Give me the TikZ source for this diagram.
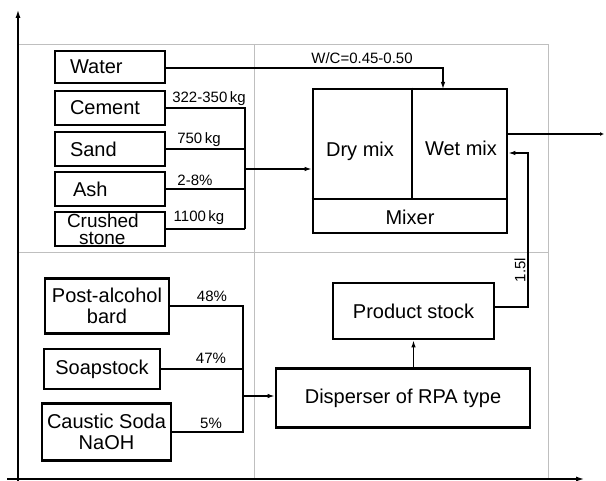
\documentclass[tikz,border=0pt]{standalone}
\usepackage{fontspec}
\setmainfont{Liberation Sans}
\usetikzlibrary{arrows.meta}
\begin{document}
\begin{tikzpicture}[x=1pt,y=-1pt,
  box/.style={draw,line width=2.8pt,inner sep=0pt,font=\fontsize{20}{21}\selectfont,align=center},
  lbox/.style={draw,line width=2.8pt,inner ysep=0pt,inner xsep=15pt,text width=80pt,align=left,font=\fontsize{20}{21}\selectfont},
  grid/.style={draw=black!25,line width=1pt},
  conn/.style={line width=1.2pt},
  arr/.style={conn,-{Latex[length=7pt,width=4.5pt]}},
  axis/.style={line width=2pt,-{Latex[length=9pt,width=5pt]}},
  lbl/.style={font=\fontsize{15}{16}\selectfont,inner sep=0pt,anchor=center}]
\useasboundingbox (0,0) rectangle (606,481);
% grid
\draw[grid] (18,45) -- (548,45) -- (548,479);
\draw[grid] (18,253) -- (548,253);
\draw[grid] (254,45) -- (254,479);
% axes
\coordinate (o) at (18,481);
\coordinate (ytip) at (18,9);
\coordinate (xs) at (7,479);
\coordinate (xtip) at (585,479);
\draw[axis] (o) -- (ytip);
\draw[axis] (xs) -- (xtip);
% upper-left boxes
\node[lbox,minimum height=32pt] (water) at (110,67) {Water};
\node[lbox,minimum height=34pt] (cement) at (110,108) {Cement};
\node[lbox,minimum height=34pt] (sand) at (110,149) {Sand};
\node[lbox,minimum height=34pt] (ash) at (110,189) {\hspace*{3pt}Ash};
\node[lbox,minimum height=34pt,inner xsep=12pt,text width=86pt,font=\fontsize{19}{15.5}\selectfont] (stone) at (110,229) {\raisebox{1.5pt}{Crushed}\\\hspace*{12pt}stone};
% mixer
\node[draw,line width=2.8pt,minimum width=194pt,minimum height=144pt,inner sep=0pt] (mixer) at (410,161) {};
\coordinate (mdiv) at (412,199);
\draw[line width=1.8pt] (mixer.west |- mdiv) -- (mixer.east |- mdiv);
\draw[line width=1.8pt] (mixer.north -| mdiv) -- (mdiv);
\node[font=\fontsize{20}{21}\selectfont,inner sep=0pt] (dry) at (360,151) {Dry mix};
\node[font=\fontsize{20}{21}\selectfont,inner sep=0pt] (wet) at (461,148) {Wet mix};
\node[font=\fontsize{20}{21}\selectfont,inner sep=0pt] (mixlbl) at (410,217) {Mixer};
% water to mixer
\coordinate (wcorner) at (443,68);
\coordinate (wtop) at (443,89);
\draw[arr] (water.east |- wcorner) -- (wcorner) -- (wtop);
\node[lbl] (wc) at (362,58) {W/C=0.45-0.50};
% dry ingredients bus
\coordinate (busA) at (245,108);
\coordinate (busB) at (245,229);
\coordinate (busM) at (245,169);
\draw[conn] (cement.east) -- (busA) -- (busB);
\draw[conn] (sand.east) -- (sand.east -| busA);
\draw[conn] (ash.east) -- (ash.east -| busA);
\draw[conn] (stone.east) -- (busB);
\draw[arr] (busM) -- (mixer.west |- busM);
\node[lbl] (l1) at (209,99) {322-350\,kg};
\node[lbl] (l2) at (199,140) {750\,kg};
\node[lbl] (l3) at (195,180) {2-8\%};
\node[lbl] (l4) at (199,218) {1100\,kg};
% output
\coordinate (outR) at (604,134);
\draw[conn,-{Latex[length=4pt,width=4pt]}] (mixer.east |- outR) -- (outR);
% lower-left boxes
\node[box,minimum width=124pt,minimum height=55pt] (bard) at (107,306) {Post-alcohol\\bard};
\node[box,minimum width=116pt,minimum height=40pt] (soap) at (102,369) {Soapstock};
\node[box,minimum width=129pt,minimum height=57pt] (soda) at (106.5,432) {Caustic Soda\\NaOH};
\coordinate (bus2A) at (243,306);
\coordinate (bus2B) at (243,432);
\coordinate (bus2M) at (243,396);
\draw[conn] (bard.east) -- (bus2A) -- (bus2B) -- (soda.east);
\draw[conn] (soap.east) -- (soap.east -| bus2A);
\node[lbl] (p1) at (212,296) {48\%};
\node[lbl] (p2) at (211,358) {47\%};
\node[lbl] (p3) at (211,423) {5\%};
% disperser & product stock
\node[box,minimum width=254pt,minimum height=59pt] (disp) at (403,398) {Disperser of RPA type};
\node[box,minimum width=161pt,minimum height=56pt] (prod) at (413.5,311) {Product stock};
\draw[arr] (bus2M) -- (disp.west |- bus2M);
\draw[arr] (disp.north -| prod) -- (prod.south);
% return line
\coordinate (rA) at (528,307);
\coordinate (rB) at (528,153);
\draw[arr] (prod.east |- rA) -- (rA) -- (rB) -- (mixer.east |- rB);
\node[lbl,rotate=90] (q) at (520,270) {1.5l};
\end{tikzpicture}
\end{document}
